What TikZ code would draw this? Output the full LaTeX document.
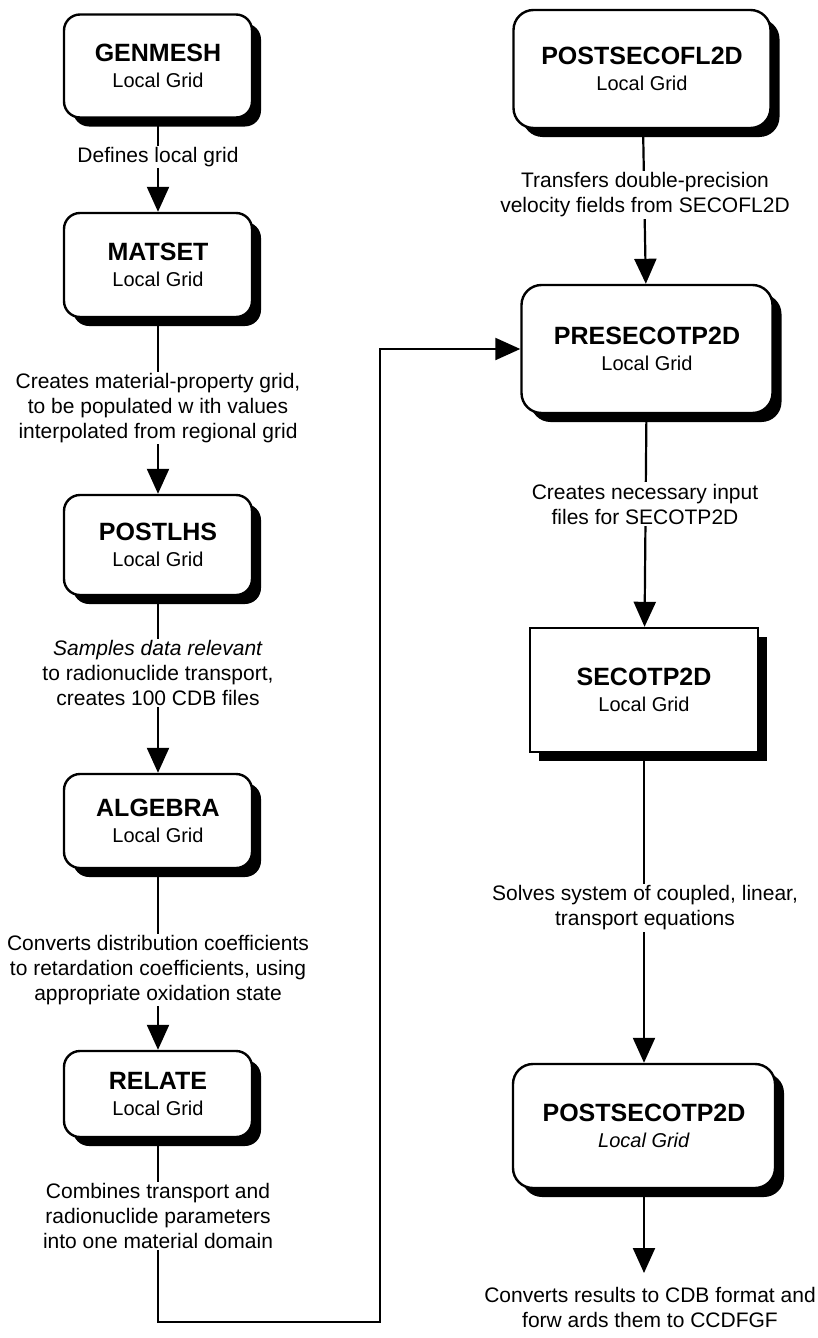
\documentclass[tikz,border=0pt]{standalone}
\usepackage{fontspec}
\setmainfont{Liberation Sans}
\usetikzlibrary{arrows.meta,shadows}

\newcommand{\ttl}[1]{{\fontsize{25}{27}\selectfont\bfseries #1}}

\tikzset{
  stage/.style={draw=black, line width=2.4pt, fill=white, align=center,
    rounded corners=16pt, inner sep=0pt,
    font=\fontsize{20}{26}\selectfont,
    drop shadow={shadow xshift=9pt, shadow yshift=-9pt, fill=black, opacity=1}},
  solver/.style={stage, rounded corners=0pt},
  flow/.style={line width=2.2pt, -{Triangle[length=25pt,width=22pt]}},
  lbl/.style={fill=white, align=center, inner sep=1.5pt,
    font=\fontsize{21}{25}\selectfont}
}

\begin{document}
\begin{tikzpicture}[x=1pt,y=-1pt]
\useasboundingbox (0,0) rectangle (817,1338);

% left column of modules
\node[stage, minimum width=188, minimum height=103] (genmesh) at (158,66)
  {\ttl{GENMESH}\\Local Grid};
\node[stage, minimum width=188, minimum height=104] (matset) at (158,265)
  {\ttl{MATSET}\\Local Grid};
\node[stage, minimum width=188, minimum height=100] (postlhs) at (158,545)
  {\ttl{POSTLHS}\\Local Grid};
\node[stage, minimum width=188, minimum height=94] (algebra) at (158,821)
  {\ttl{ALGEBRA}\\Local Grid};
\node[stage, minimum width=188, minimum height=86] (relate) at (158,1094)
  {\ttl{RELATE}\\Local Grid};

% right column of modules
\node[stage, rounded corners=20pt, minimum width=257, minimum height=118] (postfl) at (642,69)
  {\ttl{POSTSECOFL2D}\\Local Grid};
\node[stage, rounded corners=20pt, minimum width=251, minimum height=128] (pretp) at (647,349)
  {\ttl{PRESECOTP2D}\\Local Grid};
\node[solver, minimum width=228, minimum height=124] (tp) at (644,690)
  {\ttl{SECOTP2D}\\Local Grid};
\node[stage, rounded corners=20pt, minimum width=262, minimum height=124] (posttp) at (644,1126)
  {\ttl{POSTSECOTP2D}\\\textit{Local Grid}};

\coordinate (out) at (644,1273);
\coordinate (b1) at (158,1322);
\coordinate (b2) at (380,1322);

% connectors
\draw[flow] (genmesh) -- (matset);
\draw[flow] (matset) -- (postlhs);
\draw[flow] (postlhs) -- (algebra);
\draw[flow] (algebra) -- (relate);
\draw[flow] (relate.south) -- (b1) -- (b2) |- (pretp.west);
\draw[flow] (postfl) -- (pretp);
\draw[flow] (pretp) -- (tp);
\draw[flow] (tp) -- (posttp);
\draw[flow] (posttp.south) -- (out);

% connector labels
\node[lbl] (l1) at (158,157) {Defines local grid};
\node[lbl] (l2) at (158,408) {Creates material-property grid,\\to be populated w ith values\\interpolated from regional grid};
\node[lbl] (l3) at (158,673) {\textit{Samples data relevant}\\to radionuclide transport,\\creates 100 CDB files};
\node[lbl] (l4) at (158,970) {Converts distribution coefficients\\to retardation coefficients, using\\appropriate oxidation state};
\node[lbl] (l5) at (158,1216) {Combines transport and\\radionuclide parameters\\into one material domain};
\node[lbl] (r1) at (645,195) {Transfers double-precision\\velocity fields from SECOFL2D};
\node[lbl] (r2) at (645,504) {Creates necessary input\\files for SECOTP2D};
\node[lbl] (r3) at (645,908) {Solves system of coupled, linear,\\transport equations};
\node[lbl] (r4) at (650,1307) {Converts results to CDB format and\\forw ards them to CCDFGF};
\end{tikzpicture}
\end{document}
